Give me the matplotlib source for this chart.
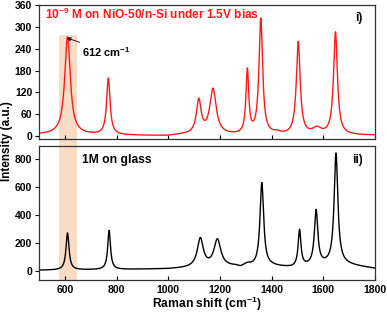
import numpy as np
import matplotlib
matplotlib.use("Agg")
from matplotlib import pyplot as plt
from matplotlib.patches import Rectangle
from matplotlib.transforms import blended_transform_factory

plt.rcParams['font.family'] = ['Liberation Sans', 'DejaVu Sans']
plt.rcParams['font.weight'] = 'bold'
plt.rcParams['mathtext.default'] = 'regular'

# red spectrum (10^-9 M on NiO-50/n-Si): peak centre, height, fwhm
red_pos = [610, 768, 1118, 1173, 1306, 1358, 1420, 1503, 1575, 1647]
red_hgt = [268, 155, 92, 124, 175, 318, 6, 255, 17, 282]
red_fwhm = [26, 16, 22, 30, 13, 17, 40, 18, 40, 18]
red_base_x = [500, 600, 800, 1000, 1050, 1200, 1400, 1700, 1800]
red_base_y = [4, 4, 2, 0, 3, 2, 0, 2, 2]

# black spectrum (1M on glass)
blk_pos = [610, 771, 1124, 1190, 1305, 1362, 1508, 1572, 1649]
blk_hgt = [265, 280, 205, 195, 25, 600, 260, 390, 790]
blk_fwhm = [14, 13, 28, 32, 40, 17, 13, 16, 17]
blk_base_x = [500, 700, 1000, 1100, 1260, 1280, 1400, 1480, 1660, 1720, 1800]
blk_base_y = [3, 6, 12, 20, 25, 12, 30, 20, 50, 35, 15]

band = (577, 645)


def spectrum(x, pos, hgt, fwhm, bx, by):
    y = np.interp(x, bx, by)
    for p, h, w in zip(pos, hgt, fwhm):
        g = (w / 2) ** 2
        y = y + h * g / ((x - p) ** 2 + g)
    return y


x = np.linspace(500, 1800, 2601)
y_red = spectrum(x, red_pos, red_hgt, red_fwhm, red_base_x, red_base_y)
y_blk = spectrum(x, blk_pos, blk_hgt, blk_fwhm, blk_base_x, blk_base_y)

fig = plt.figure(figsize=(3.87, 3.13), dpi=100)
ax1 = fig.add_axes([0.101, 0.556, 0.868, 0.428], facecolor='none')
ax2 = fig.add_axes([0.101, 0.104, 0.868, 0.428], facecolor='none')

ax1.plot(x, y_red, color='#ff1a1a', lw=1.0)
ax2.plot(x, y_blk, color='black', lw=1.0)

ax1.set_ylim(-8, 360)
ax1.set_yticks([0, 60, 120, 180, 240, 300, 360])
ax2.set_ylim(-70, 890)
ax2.set_yticks([0, 200, 400, 600, 800])
for ax in (ax1, ax2):
    ax.set_xlim(500, 1800)
    ax.set_xticks([600, 800, 1000, 1200, 1400, 1600, 1800])
    ax.tick_params(axis='x', direction='in', length=3, width=0.8, labelsize=7.5, pad=3)
    ax.tick_params(axis='y', direction='out', length=3, width=0.8, labelsize=7.5, pad=2)
    for s in ax.spines.values():
        s.set_color('#333333')
        s.set_linewidth(0.9)
ax1.tick_params(axis='x', labelbottom=False)

# shaded band spanning both panels
p1 = ax1.get_position()
p2 = ax2.get_position()
top_frac = p1.y0 + (278 - (-8)) / 368 * p1.height
tr = blended_transform_factory(ax1.transData, fig.transFigure)
fig.add_artist(Rectangle((band[0], p2.y0), band[1] - band[0], top_frac - p2.y0,
                         transform=tr, color='#f9dcc6', zorder=-1, lw=0))

ax1.text(0.018, 0.93, '10$^{-9}$ M on NiO-50/n-Si under 1.5V bias', color='#ff1a1a',
         fontsize=8.6, fontweight='bold', transform=ax1.transAxes, va='center')
ax1.text(0.94, 0.90, 'i)', fontsize=8.5, fontweight='bold', transform=ax1.transAxes, va='center')
ax1.annotate('612 cm$^{-1}$', xy=(606, 270), xytext=(668, 232), fontsize=8, fontweight='bold',
             va='center', arrowprops=dict(arrowstyle='-|>', color='#222222', lw=0.7,
                                          mutation_scale=6, shrinkA=0, shrinkB=0))
ax2.text(0.128, 0.90, '1M on glass', fontsize=8.7, fontweight='bold', transform=ax2.transAxes, va='center')
ax2.text(0.932, 0.90, 'ii)', fontsize=8.5, fontweight='bold', transform=ax2.transAxes, va='center')

ax2.set_xlabel('Raman shift (cm$^{-1}$)', fontsize=8.7, fontweight='bold', labelpad=0)
fig.text(0.002, 0.55, 'Intensity (a.u.)', rotation=90, fontsize=8.5, fontweight='bold',
         va='center', ha='left')

fig.savefig('out.png', dpi=100)
